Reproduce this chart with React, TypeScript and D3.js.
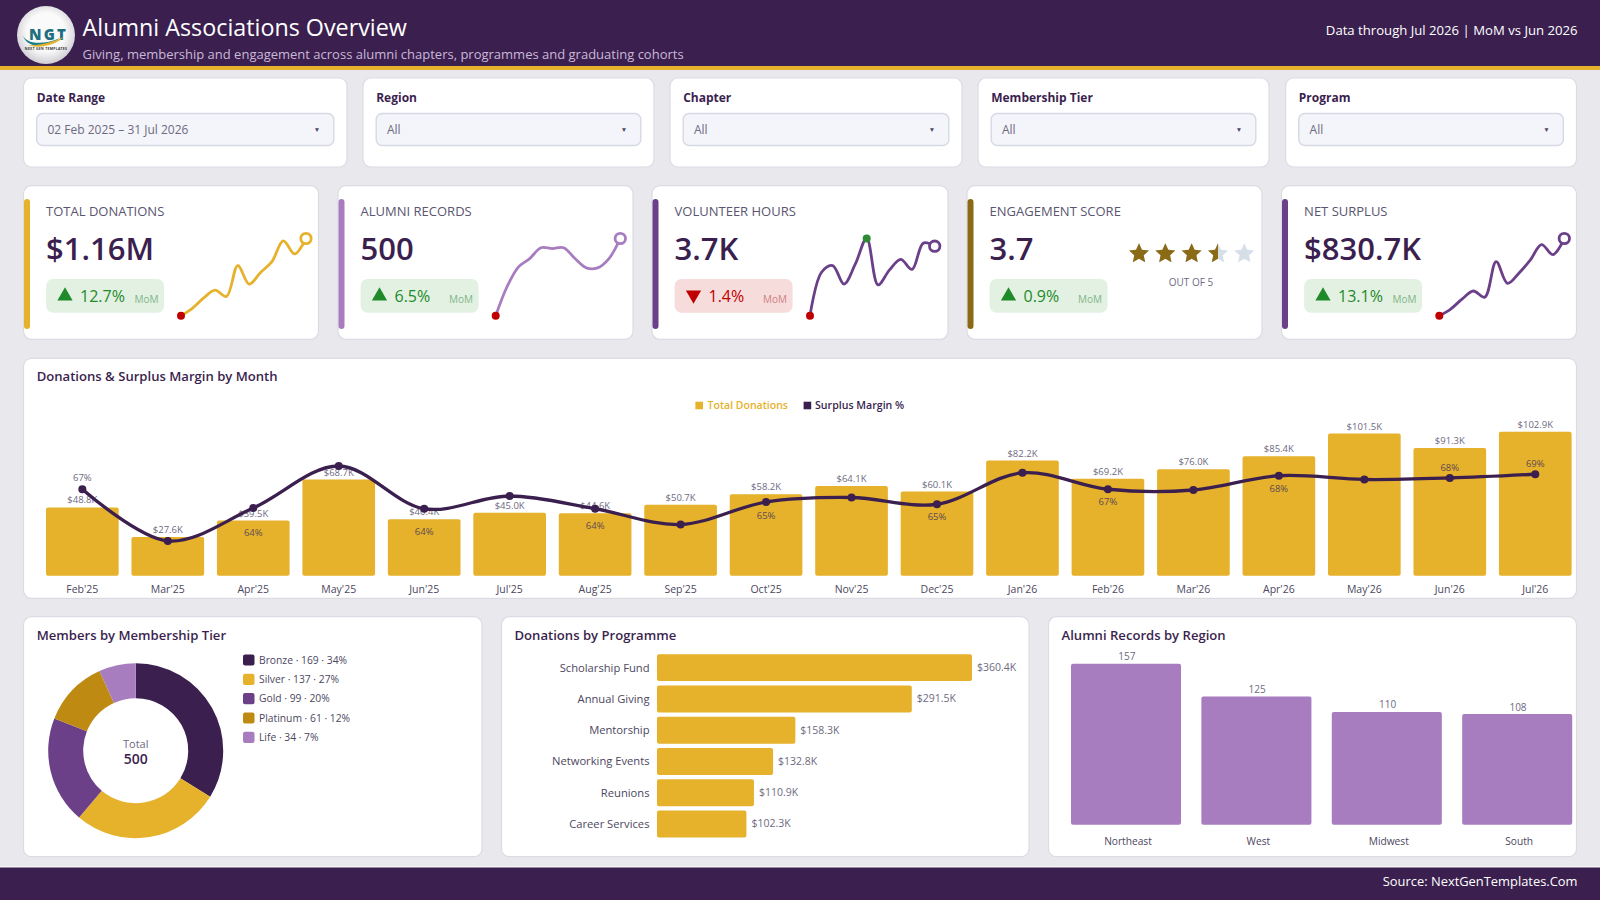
import React from 'react';
import * as d3 from 'd3';

// ---- data
const filterLabels = ['Date Range', 'Region', 'Chapter', 'Membership Tier', 'Program'];
const filterValues = ['02 Feb 2025 – 31 Jul 2026', 'All', 'All', 'All', 'All'];

const kpiLabels = ['TOTAL DONATIONS', 'ALUMNI RECORDS', 'VOLUNTEER HOURS', 'ENGAGEMENT SCORE', 'NET SURPLUS'];
const kpiValues = ['$1.16M', '500', '3.7K', '3.7', '$830.7K'];
const kpiDeltas = [12.7, 6.5, -1.4, 0.9, 13.1];

const sparkDonations = [0, 9.6, 23, 33, 25, 65, 41, 56, 70, 97, 80, 100];
const sparkRecords = [0, 37.5, 63, 74, 88, 87, 88, 74, 62, 62, 74, 100];
const sparkHours = [0, 56, 65, 41, 67, 100, 40, 59, 73, 60, 94, 90];
const sparkSurplus = [0, 8.6, 21.5, 32, 24, 70, 42, 55, 72, 92, 79, 100];

const engagementScore = 3.7;

const months = ["Feb'25", "Mar'25", "Apr'25", "May'25", "Jun'25", "Jul'25", "Aug'25", "Sep'25", "Oct'25", "Nov'25", "Dec'25", "Jan'26", "Feb'26", "Mar'26", "Apr'26", "May'26", "Jun'26", "Jul'26"];
const donations = [48.8, 27.6, 39.5, 68.7, 40.4, 45.0, 44.6, 50.7, 58.2, 64.1, 60.1, 82.2, 69.2, 76.0, 85.4, 101.5, 91.3, 102.9];
const margins = [66.5, 59.6, 64.0, 69.6, 63.9, 65.6, 63.9, 61.8, 64.8, 65.4, 64.5, 68.7, 66.5, 66.4, 68.3, 67.8, 68.0, 68.5];

const tiers = ['Bronze', 'Silver', 'Gold', 'Platinum', 'Life'];
const tierCounts = [169, 137, 99, 61, 34];
const tierShares = [34, 27, 20, 12, 7];

const programmes = ['Scholarship Fund', 'Annual Giving', 'Mentorship', 'Networking Events', 'Reunions', 'Career Services'];
const programmeDonations = [360.4, 291.5, 158.3, 132.8, 110.9, 102.3];

const regions = ['Northeast', 'West', 'Midwest', 'South'];
const regionRecords = [157, 125, 110, 108];

// ---- colours
const DARK = '#3B1F4F';
const GOLD = '#E6B12B';
const PURPLE = '#6B4089';
const LILAC = '#A87DC0';
const AMBER = '#BF8A12';
const OLIVE = '#8A6A14';
const MUTED = '#6E6A80';
const TEXT = '#4C4760';
const tierColors = [DARK, GOLD, PURPLE, AMBER, LILAC];

// ---- layout
const FONT = "'Open Sans', 'Noto Sans', sans-serif";
const filterBoxes = [[23.5, 347], [363, 654], [670, 962], [978, 1269], [1285.6, 1576.5]];
const kpiBoxes = [[23.5, 318.5], [338, 633], [652, 948], [967, 1262], [1281.5, 1576.5]];
const kpiAccents = [GOLD, LILAC, PURPLE, OLIVE, PURPLE];
const sparkSets = [sparkDonations, sparkRecords, sparkHours, null, sparkSurplus];
const sparkRanges = [[181, 306], [495.7, 620.3], [810, 934.7], null, [1439.3, 1564.3]];
const marginLabelDy: Record<number, number> = { 0: -11.5, 2: 24.5, 4: 22.5, 6: 16.5, 8: 13, 10: 12.5, 12: 12.2, 14: 13, 16: -11, 17: -11 };

const Card = ({ x0, x1, y0, y1 }: { x0: number; x1: number; y0: number; y1: number }) => (
  <rect x={x0} y={y0} width={x1 - x0} height={y1 - y0} rx={8} fill="#fff" stroke="#DCDBE3" strokeWidth={1.2} />
);

const Spark = ({ values, range, color }: { values: number[]; range: number[]; color: string }) => {
  const x = d3.scaleLinear().domain([0, values.length - 1]).range(range);
  const y = d3.scaleLinear().domain([0, 100]).range([315.7, 238.5]);
  const line = d3.line<number>().x((_, i) => x(i)).y(d => y(d)).curve(d3.curveCatmullRom.alpha(0.5));
  const last = values.length - 1;
  const maxIdx = d3.maxIndex(values);
  return (
    <g>
      <path d={line(values) || ''} fill="none" stroke={color} strokeWidth={2.8} strokeLinecap="round" />
      <circle cx={x(0)} cy={y(values[0])} r={4} fill="#C00000" />
      {maxIdx !== last && <circle cx={x(maxIdx)} cy={y(values[maxIdx])} r={4} fill="#2E8B33" />}
      <circle cx={x(last)} cy={y(values[last])} r={5.2} fill="#fff" stroke={color} strokeWidth={2.8} />
    </g>
  );
};

const Stars = () => {
  const x = d3.scalePoint<number>().domain([0, 1, 2, 3, 4]).range([1139, 1244.3]);
  // five-point star, a bit fatter than d3.symbolStar
  const star = d3.lineRadial<number>()
    .angle(i => (i * Math.PI) / 5)
    .radius(i => (i % 2 ? 5 : 10.5))
    .curve(d3.curveLinearClosed)(d3.range(10)) || '';
  const filled = Math.round(engagementScore * 2) / 2;
  return (
    <g>
      <defs>
        <clipPath id="halfStar"><rect x={-11} y={-12} width={11} height={24} /></clipPath>
      </defs>
      {[0, 1, 2, 3, 4].map(i => (
        <g key={i} transform={`translate(${x(i)},253.8)`}>
          <path d={star} fill="#D6DFE8" />
          {i + 1 <= filled && <path d={star} fill={OLIVE} />}
          {i < filled && i + 1 > filled && <path d={star} fill={OLIVE} clipPath="url(#halfStar)" />}
        </g>
      ))}
      <text x={1191} y={282} fontSize={10} fill={MUTED} textAnchor="middle" dominantBaseline="central">OUT OF 5</text>
    </g>
  );
};

const Logo = () => (
  <g>
    <defs>
      <radialGradient id="logoFill" cx="50%" cy="45%" r="55%">
        <stop offset="60%" stopColor="#FAFAFA" />
        <stop offset="100%" stopColor="#CFCDD3" />
      </radialGradient>
    </defs>
    <circle cx={46} cy={35} r={29} fill="url(#logoFill)" />
    <text x={48.5} y={39.5} fontSize={15} fontWeight={800} fill="#1D6F80" textAnchor="middle" letterSpacing={2.2}>NGT</text>
    <path d="M22 33 C24 44 42 46 60 38 C46 48 26 50 22 33 Z" fill="#1D7F8A" />
    <path d="M28 45 C40 46 52 42 64 37 C54 46 38 49 28 45 Z" fill={GOLD} />
    <text x={46} y={49.5} fontSize={3.4} fontWeight={700} fill="#333" textAnchor="middle" letterSpacing={0.3}>NEXT GEN TEMPLATES</text>
  </g>
);

const App = () => {
  // monthly combo chart
  const xMonth = d3.scaleBand().domain(months).range([39.6, 1578]).paddingInner(0.15).paddingOuter(0.075);
  const yDonation = d3.scaleLinear().domain([0, 110]).range([575.7, 421.7]);
  const yMargin = d3.scaleLinear().domain([50, 75]).range([613, 425.5]);
  const cx = (m: string) => (xMonth(m) || 0) + xMonth.bandwidth() / 2;
  const marginLine = d3.line<number>().x((_, i) => cx(months[i])).y(d => yMargin(d)).curve(d3.curveCatmullRom.alpha(0.5));

  // donut
  const pie = d3.pie<number>().sort(null)(tierCounts);
  const arc = d3.arc<d3.PieArcDatum<number>>().innerRadius(52.5).outerRadius(87.5);

  // programme bars
  const yProg = d3.scaleBand().domain(programmes).range([652, 839.6]).paddingInner(0.137).paddingOuter(0.068);
  const xProg = d3.scaleLinear().domain([0, 360.4]).range([657, 972]);

  // region bars
  const xRegion = d3.scaleBand().domain(regions).range([1060.8, 1582.4]).paddingInner(0.156).paddingOuter(0.078);
  const yRegion = d3.scaleLinear().domain([0, 157]).range([824.7, 663.7]);

  return (
    <svg width={1600} height={900} viewBox="0 0 1600 900" fontFamily={FONT} style={{ position: 'absolute', left: 0, top: 0, display: 'block' }}>
      <rect width={1600} height={900} fill="#E9E8ED" />

      {/* header */}
      <rect width={1600} height={66} fill={DARK} />
      <rect y={66} width={1600} height={4} fill={GOLD} />
      <Logo />
      <text x={82.6} y={26.7} fontSize={23.3} fontWeight={500} fill="#fff" dominantBaseline="central">Alumni Associations Overview</text>
      <text x={82.6} y={54.2} fontSize={13} fill="#C9B9D8" dominantBaseline="central">Giving, membership and engagement across alumni chapters, programmes and graduating cohorts</text>
      <text x={1577.5} y={29.5} fontSize={13.15} fill="#fff" textAnchor="end" dominantBaseline="central">Data through Jul 2026 | MoM vs Jun 2026</text>

      {/* filters */}
      {filterBoxes.map(([x0, x1], i) => (
        <g key={filterLabels[i]}>
          <Card x0={x0} x1={x1} y0={78} y1={167} />
          <text x={x0 + 13.2} y={97.6} fontSize={12} fontWeight={700} fill={DARK} dominantBaseline="central">{filterLabels[i]}</text>
          <rect x={x0 + 13.2} y={113.5} width={x1 - x0 - 26.4} height={32} rx={6} fill="#F3F5FA" stroke="#D6D9E3" strokeWidth={1.4} />
          <text x={x0 + 24} y={129.6} fontSize={12} fill={MUTED} dominantBaseline="central">{filterValues[i]}</text>
          <text x={x1 - 30} y={129.3} fontSize={6.5} fill={TEXT} textAnchor="middle" dominantBaseline="central">▼</text>
        </g>
      ))}

      {/* kpi cards */}
      {kpiBoxes.map(([x0, x1], i) => {
        const delta = kpiDeltas[i];
        const up = delta >= 0;
        const spark = sparkSets[i];
        const range = sparkRanges[i];
        return (
          <g key={kpiLabels[i]}>
            <Card x0={x0} x1={x1} y0={185.7} y1={339.3} />
            <rect x={x0 + 0.5} y={199} width={6} height={130} rx={3} fill={kpiAccents[i]} />
            <text x={x0 + 22.6} y={211} fontSize={13} fill="#5A5570" dominantBaseline="central">{kpiLabels[i]}</text>
            <text x={x0 + 22.6} y={248} fontSize={31} fontWeight={600} fill={DARK} dominantBaseline="central">{kpiValues[i]}</text>
            <rect x={x0 + 22.6} y={279} width={118} height={33.7} rx={7} fill={up ? '#E3F1E3' : '#F7DCDC'} />
            <path d={d3.symbol().type(d3.symbolTriangle).size(100)() || ''} fill={up ? '#1E8A2A' : '#C00000'}
              transform={`translate(${x0 + 41.5},${up ? 296 : 295}) rotate(${up ? 0 : 180})`} />
            <text x={x0 + 56.5} y={296.3} fontSize={16} fill={up ? '#1E8A2A' : '#C00000'} dominantBaseline="central">{Math.abs(delta)}%</text>
            <text x={x0 + 135} y={298.5} fontSize={10} fill={up ? '#7FB587' : '#CF7F7F'} textAnchor="end" dominantBaseline="central">MoM</text>
            {spark && range && <Spark values={spark} range={range} color={kpiAccents[i]} />}
          </g>
        );
      })}
      <Stars />

      {/* monthly chart */}
      <Card x0={23.5} x1={1576.5} y0={358.3} y1={598.3} />
      <text x={36.7} y={376} fontSize={13.1} fontWeight={600} fill={DARK} dominantBaseline="central">Donations &amp; Surplus Margin by Month</text>
      <rect x={695.4} y={401.7} width={7.6} height={7.6} fill={GOLD} />
      <text x={707.6} y={405} fontSize={10.5} fontWeight={600} fill={GOLD} dominantBaseline="central">Total Donations</text>
      <rect x={803.6} y={401.7} width={7.6} height={7.6} fill={DARK} />
      <text x={815} y={405} fontSize={10.6} fontWeight={600} fill={DARK} dominantBaseline="central">Surplus Margin %</text>
      {months.map((m, i) => (
        <g key={m}>
          <rect x={xMonth(m)} y={yDonation(donations[i])} width={xMonth.bandwidth()} height={yDonation(0) - yDonation(donations[i])} rx={2} fill={GOLD} />
          <text x={cx(m)} y={yDonation(donations[i]) - 7.4} fontSize={9.5} fill={MUTED} textAnchor="middle" dominantBaseline="central">{`$${d3.format('.1f')(donations[i])}K`}</text>
          <text x={cx(m)} y={589.2} fontSize={10.5} fill={TEXT} textAnchor="middle" dominantBaseline="central">{m}</text>
        </g>
      ))}
      <path d={marginLine(margins) || ''} fill="none" stroke={DARK} strokeWidth={3.3} />
      {months.map((m, i) => (
        <g key={m}>
          <circle cx={cx(m)} cy={yMargin(margins[i])} r={4} fill={DARK} />
          {marginLabelDy[i] !== undefined && (
            <text x={cx(m)} y={yMargin(margins[i]) + marginLabelDy[i]} fontSize={9.5} fill={i === 0 ? MUTED : '#5E4A55'} textAnchor="middle" dominantBaseline="central">{`${Math.round(margins[i])}%`}</text>
          )}
        </g>
      ))}

      {/* tier donut */}
      <Card x0={23.5} x1={482} y0={616.7} y1={856.7} />
      <text x={36.7} y={634.7} fontSize={13.1} fontWeight={600} fill={DARK} dominantBaseline="central">Members by Membership Tier</text>
      <g transform="translate(135.7,750.7)">
        {pie.map((d, i) => <path key={tiers[i]} d={arc(d) || ''} fill={tierColors[i]} />)}
        <text y={-7.3} fontSize={11} fill={MUTED} textAnchor="middle" dominantBaseline="central">Total</text>
        <text y={8} fontSize={14} fontWeight={600} fill={DARK} textAnchor="middle" dominantBaseline="central">500</text>
      </g>
      {tiers.map((t, i) => (
        <g key={t} transform={`translate(243,${660 + i * 19.33})`}>
          <rect y={-5.6} width={11.5} height={11.2} rx={2} fill={tierColors[i]} />
          <text x={16} y={-0.4} fontSize={10.3} fill={TEXT} dominantBaseline="central">{`${t} · ${tierCounts[i]} · ${tierShares[i]}%`}</text>
        </g>
      ))}

      {/* programme bars */}
      <Card x0={501.5} x1={1029} y0={616.7} y1={856.7} />
      <text x={514.5} y={634.7} fontSize={13.1} fontWeight={600} fill={DARK} dominantBaseline="central">Donations by Programme</text>
      {programmes.map((p, i) => {
        const y = yProg(p) || 0;
        const mid = y + yProg.bandwidth() / 2;
        return (
          <g key={p}>
            <text x={649.5} y={mid - 0.6} fontSize={11.2} fill={TEXT} textAnchor="end" dominantBaseline="central">{p}</text>
            <rect x={xProg(0)} y={y} width={xProg(programmeDonations[i]) - xProg(0)} height={yProg.bandwidth()} rx={2} fill={GOLD} />
            <text x={xProg(programmeDonations[i]) + 5} y={mid - 0.6} fontSize={10.5} fill={MUTED} dominantBaseline="central">{`$${programmeDonations[i]}K`}</text>
          </g>
        );
      })}

      {/* region bars */}
      <Card x0={1048.5} x1={1576.5} y0={616.7} y1={856.7} />
      <text x={1061.5} y={634.7} fontSize={13.1} fontWeight={600} fill={DARK} dominantBaseline="central">Alumni Records by Region</text>
      {regions.map((r, i) => {
        const x = xRegion(r) || 0;
        const mid = x + xRegion.bandwidth() / 2;
        return (
          <g key={r}>
            <rect x={x} y={yRegion(regionRecords[i])} width={xRegion.bandwidth()} height={yRegion(0) - yRegion(regionRecords[i])} rx={2} fill={LILAC} />
            <text x={mid + 0.8} y={yRegion(regionRecords[i]) - 7.4} fontSize={10} fill={MUTED} textAnchor="middle" dominantBaseline="central">{regionRecords[i]}</text>
            <text x={mid + 2} y={841} fontSize={10.2} fill={TEXT} textAnchor="middle" dominantBaseline="central">{r}</text>
          </g>
        );
      })}

      {/* footer */}
      <rect y={866.5} width={1600} height={1} fill="#fff" />
      <rect y={867.5} width={1600} height={32.5} fill={DARK} />
      <text x={1577.5} y={881.2} fontSize={12.9} fill="#fff" textAnchor="end" dominantBaseline="central">Source: NextGenTemplates.Com</text>
    </svg>
  );
};

export default App;
